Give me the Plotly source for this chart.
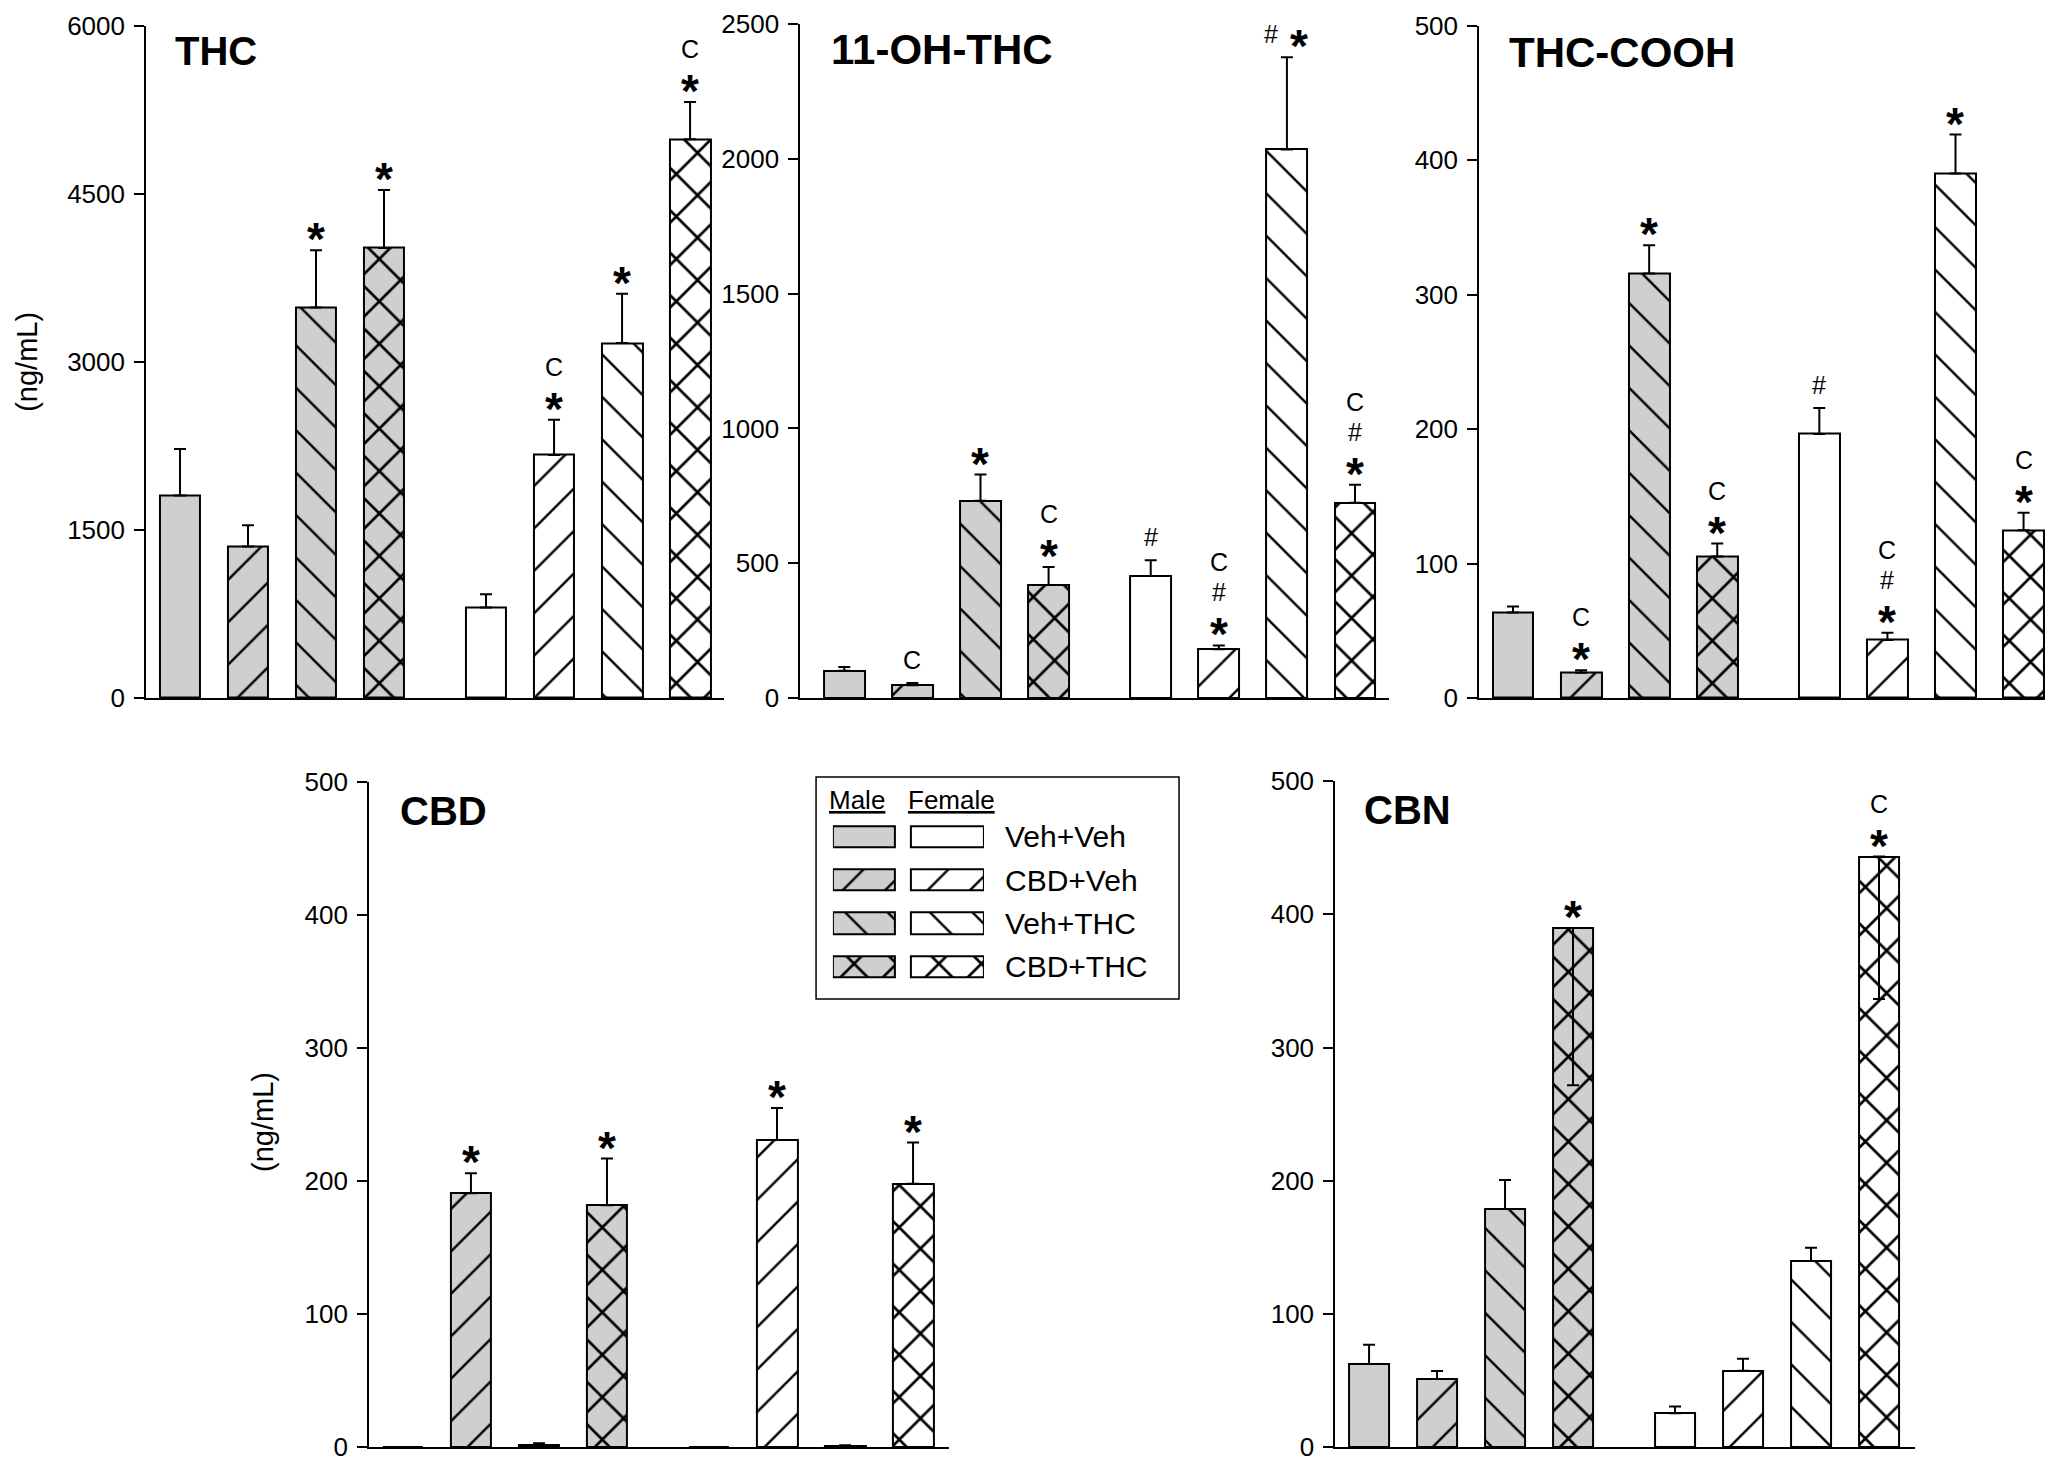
import plotly.graph_objects as go

# --- data (ng/mL, mean and SEM) ---
groups = ["Veh+Veh", "CBD+Veh", "Veh+THC", "CBD+THC"]

thc_male = [1806, 1353, 3485, 4015]
thc_female = [807, 2168, 3167, 4985]
thc_male_up = [415, 188, 510, 517]
thc_female_up = [118, 314, 440, 334]
thc_marks = [[], [], ["*"], ["*"], [], ["*", "C"], ["*"], ["*", "C"]]

oh_male = [101, 47, 732, 419]
oh_female = [453, 181, 2035, 724]
oh_male_up = [14, 9, 97, 67]
oh_female_up = [58, 14, 342, 67]
oh_marks = [[], ["C"], ["*"], ["*", "C"], ["#"], ["*", "#", "C"], ["# *"], ["*", "#", "C"]]

cooh_male = [63.5, 18.7, 315.6, 105.3]
cooh_female = [196.3, 43.1, 390, 124.7]
cooh_male_up = [4.5, 2, 21, 9.5]
cooh_female_up = [19.4, 5.5, 29, 13]
cooh_marks = [[], ["*", "C"], ["*"], ["*", "C"], ["#"], ["*", "#", "C"], ["*"], ["*", "C"]]

cbd_male = [0, 191, 2, 182]
cbd_female = [0, 231, 1, 198]
cbd_male_up = [0, 15, 1, 35]
cbd_female_up = [0, 24, 0.5, 31]
cbd_marks = [[], ["*"], [], ["*"], [], ["*"], [], ["*"]]

cbn_male = [62.5, 51.3, 178.8, 389.7]
cbn_female = [25.6, 57.4, 139.8, 443.3]
cbn_male_up = [14.4, 6, 21.8, 0]
cbn_female_up = [5, 9, 10, 0]
cbn_male_down = [0, 0, 0, 118]
cbn_female_down = [0, 0, 0, 107]
cbn_marks = [[], [], [], ["*"], [], [], [], ["*", "C"]]

# --- styling ---
FONT = "Liberation Sans, Arial, sans-serif"
GRAY = "#cfcfcf"
shapes = ["", "/", "\\", "x"]
solid = {"": 0.1, "/": 0.08, "\\": 0.08, "x": 0.17}
male_x = [0, 1, 2, 3]
female_x = [4.5, 5.5, 6.5, 7.5]


def pattern(fill):
    return dict(shape=shapes, fgcolor="black", bgcolor=fill, size=30,
                solidity=[solid[s] for s in shapes], fillmode="replace")


panels = [
    dict(title="THC", m=thc_male, f=thc_female, mu=thc_male_up, fu=thc_female_up,
         marks=thc_marks, dtick=1500, ymax=6000, tx=0.047, ty=0.962, ts=40,
         xd=[0.0672, 0.3488], yd=[0.529, 0.988], xr=[-0.5, 8.0]),
    dict(title="11-OH-THC", m=oh_male, f=oh_female, mu=oh_male_up, fu=oh_female_up,
         marks=oh_marks, dtick=500, ymax=2500, tx=0.05, ty=0.962, ts=42,
         xd=[0.3858, 0.6727], yd=[0.529, 0.989], xr=[-0.65, 8.0]),
    dict(title="THC-COOH", m=cooh_male, f=cooh_female, mu=cooh_male_up, fu=cooh_female_up,
         marks=cooh_marks, dtick=100, ymax=500, tx=0.048, ty=0.96, ts=42,
         xd=[0.7165, 1.0], yd=[0.529, 0.988], xr=[-0.5, 8.05]),
    dict(title="CBD", m=cbd_male, f=cbd_female, mu=cbd_male_up, fu=cbd_female_up,
         marks=cbd_marks, dtick=100, ymax=500, tx=0.05, ty=0.956, ts=40,
         xd=[0.1758, 0.4584], yd=[0.0175, 0.4717], xr=[-0.5, 8.03]),
    dict(title="CBN", m=cbn_male, f=cbn_female, mu=cbn_male_up, fu=cbn_female_up,
         md=cbn_male_down, fd=cbn_female_down,
         marks=cbn_marks, dtick=100, ymax=500, tx=0.047, ty=0.957, ts=40,
         xd=[0.6464, 0.9289], yd=[0.0175, 0.4724], xr=[-0.5, 8.03]),
]

fig = go.Figure()
layout = {}
annots = []

for k, p in enumerate(panels, start=1):
    n = "" if k == 1 else str(k)
    md = p.get("md", [0] * 4)
    fd = p.get("fd", [0] * 4)
    for xs, vals, up, down, fill in [(male_x, p["m"], p["mu"], md, GRAY),
                                     (female_x, p["f"], p["fu"], fd, "white")]:
        fig.add_trace(go.Bar(
            x=xs, y=vals, width=0.6, xaxis=f"x{n}", yaxis=f"y{n}",
            marker=dict(color=fill, line=dict(color="black", width=2), pattern=pattern(fill)),
            error_y=dict(type="data", symmetric=False, array=up, arrayminus=down,
                         color="black", thickness=2, width=6),
            showlegend=False, hoverinfo="skip",
        ))
    layout[f"xaxis{n}"] = dict(domain=p["xd"], range=p["xr"], showline=True, linecolor="black",
                               linewidth=2, showticklabels=False, ticks="", showgrid=False,
                               zeroline=False, anchor=f"y{n}", automargin=False)
    layout[f"yaxis{n}"] = dict(domain=p["yd"], range=[0, p["ymax"]], dtick=p["dtick"],
                               showline=True, linecolor="black", linewidth=1.5, ticks="outside",
                               ticklen=10, tickwidth=1.5, tickcolor="black", showgrid=False,
                               zeroline=False, anchor=f"x{n}", automargin=False,
                               ticklabeloverflow="allow", ticklabelstandoff=4,
                               tickfont=dict(family=FONT, size=26, color="black"))
    annots.append(dict(text=f"<b>{p['title']}</b>", xref=f"x{n} domain", yref=f"y{n} domain",
                       x=p["tx"], y=p["ty"], xanchor="left", yanchor="middle", showarrow=False,
                       font=dict(family=FONT, size=p["ts"], color="black")))
    # significance marks stacked above each error bar
    vals = p["m"] + p["f"]
    ups = p["mu"] + p["fu"]
    for xi, v, u, mk in zip(male_x + female_x, vals, ups, p["marks"]):
        for j, m in enumerate(mk):
            items = m.split(" ")
            shifts = [0] if len(items) == 1 else [-16, 12]
            for it, xsh in zip(items, shifts):
                star = it == "*"
                annots.append(dict(
                    text="<b>*</b>" if star else it, x=xi, y=v + u, xref=f"x{n}", yref=f"y{n}",
                    showarrow=False, xanchor="center", yanchor="middle", xshift=xsh,
                    yshift=23 + 30 * j - (12 if star else 0),
                    font=dict(family=FONT, size=46 if star else 25, color="black")))

# y-axis titles
for xp, yp in [(0.0092, 0.7584), (0.1242, 0.2396)]:
    annots.append(dict(text="(ng/mL)", xref="paper", yref="paper", x=xp, y=yp, textangle=-90,
                       showarrow=False, xanchor="center", yanchor="middle",
                       font=dict(family=FONT, size=29, color="black")))

# --- legend box (male and female swatches side by side) ---
leg_y = [0.331, 0.449]
for base, width, fill in [(0, 62, GRAY), (78, 73, "white")]:
    fig.add_trace(go.Bar(
        y=groups, x=[width] * 4, base=base, orientation="h", width=0.49,
        xaxis="x6", yaxis="y6",
        marker=dict(color=fill, line=dict(color="black", width=2), pattern=pattern(fill)),
        showlegend=False, hoverinfo="skip",
    ))
layout["xaxis6"] = dict(domain=[0.4018, 0.4754], range=[0, 151], visible=False, anchor="y6")
layout["yaxis6"] = dict(domain=leg_y, range=[3.5, -0.5], visible=False, anchor="x6",
                        type="category")
row_h = (leg_y[1] - leg_y[0]) / len(groups)
for i, g in enumerate(groups):
    annots.append(dict(text=g, xref="paper", yref="paper", x=0.4847,
                       y=leg_y[1] - (i + 0.5) * row_h, xanchor="left",
                       yanchor="middle", showarrow=False,
                       font=dict(family=FONT, size=30, color="black")))
for txt, xp in [("Male", 0.3989), ("Female", 0.4374)]:
    annots.append(dict(text=f"<u>{txt}</u>", xref="paper", yref="paper", x=xp, y=0.4594,
                       xanchor="left", yanchor="middle", showarrow=False,
                       font=dict(family=FONT, size=26, color="black")))

fig.update_layout(
    **layout,
    annotations=annots,
    shapes=[dict(type="rect", xref="paper", yref="paper", x0=0.3936, x1=0.5704,
                 y0=0.3235, y1=0.4751, line=dict(color="black", width=1.5))],
    width=2053, height=1465,
    margin=dict(l=0, r=0, t=0, b=0),
    paper_bgcolor="white", plot_bgcolor="white",
    barmode="overlay", bargap=0, showlegend=False,
)

fig.write_html("out.html")
